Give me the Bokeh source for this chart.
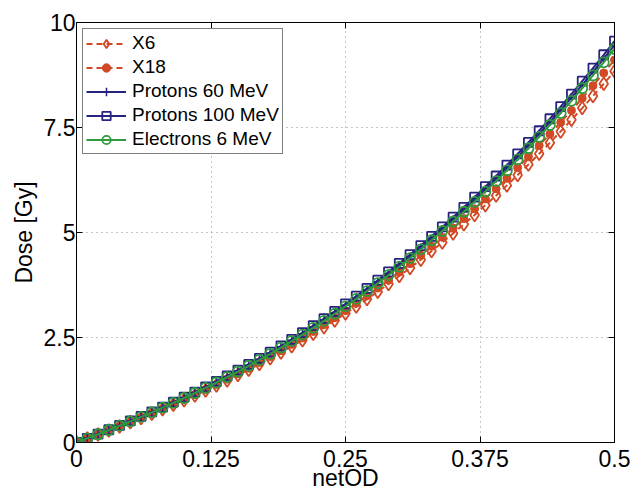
from bokeh.plotting import figure
from bokeh.models import LinearAxis, FixedTicker, Range1d
from bokeh.embed import file_html
from bokeh.resources import INLINE

# ---------------- data ----------------
net_od = [0.00, 0.01, 0.02, 0.03, 0.04, 0.05, 0.06, 0.07, 0.08, 0.09,
          0.10, 0.11, 0.12, 0.13, 0.14, 0.15, 0.16, 0.17, 0.18, 0.19,
          0.20, 0.21, 0.22, 0.23, 0.24, 0.25, 0.26, 0.27, 0.28, 0.29,
          0.30, 0.31, 0.32, 0.33, 0.34, 0.35, 0.36, 0.37, 0.38, 0.39,
          0.40, 0.41, 0.42, 0.43, 0.44, 0.45, 0.46, 0.47, 0.48, 0.49, 0.50]

dose_x6 = [0.000, 0.094, 0.188, 0.284, 0.381, 0.480, 0.581, 0.684, 0.789, 0.897,
           1.008, 1.121, 1.237, 1.357, 1.479, 1.605, 1.735, 1.868, 2.004, 2.144,
           2.289, 2.437, 2.589, 2.745, 2.906, 3.071, 3.240, 3.414, 3.592, 3.776,
           3.963, 4.156, 4.354, 4.557, 4.764, 4.977, 5.196, 5.419, 5.648, 5.882,
           6.122, 6.368, 6.619, 6.876, 7.139, 7.407, 7.682, 7.962, 8.249, 8.542, 8.841]

dose_x18 = [0.000, 0.095, 0.191, 0.288, 0.386, 0.487, 0.589, 0.694, 0.802, 0.912,
            1.024, 1.140, 1.259, 1.381, 1.506, 1.635, 1.767, 1.903, 2.043, 2.187,
            2.335, 2.487, 2.644, 2.804, 2.969, 3.139, 3.313, 3.493, 3.676, 3.865,
            4.059, 4.258, 4.462, 4.671, 4.886, 5.106, 5.332, 5.563, 5.800, 6.042,
            6.291, 6.545, 6.805, 7.071, 7.343, 7.622, 7.906, 8.197, 8.495, 8.799, 9.109]

dose_p60 = [0.000, 0.099, 0.199, 0.300, 0.403, 0.508, 0.615, 0.724, 0.836, 0.950,
            1.068, 1.188, 1.312, 1.439, 1.570, 1.704, 1.841, 1.983, 2.129, 2.278,
            2.432, 2.590, 2.753, 2.920, 3.092, 3.268, 3.449, 3.635, 3.825, 4.022,
            4.223, 4.429, 4.641, 4.859, 5.082, 5.310, 5.544, 5.784, 6.030, 6.282,
            6.539, 6.802, 7.073, 7.349, 7.631, 7.919, 8.214, 8.516, 8.825, 9.140, 9.461]

dose_p100 = [0.000, 0.100, 0.201, 0.303, 0.407, 0.513, 0.621, 0.731, 0.844, 0.960,
             1.079, 1.200, 1.325, 1.454, 1.586, 1.721, 1.860, 2.003, 2.150, 2.301,
             2.457, 2.616, 2.781, 2.949, 3.123, 3.301, 3.484, 3.672, 3.864, 4.063,
             4.266, 4.474, 4.688, 4.908, 5.133, 5.364, 5.600, 5.842, 6.091, 6.345,
             6.605, 6.871, 7.144, 7.423, 7.708, 7.999, 8.297, 8.602, 8.914, 9.232, 9.557]

dose_e6 = [0.000, 0.098, 0.197, 0.298, 0.400, 0.504, 0.610, 0.719, 0.830, 0.943,
           1.060, 1.179, 1.302, 1.428, 1.557, 1.690, 1.827, 1.967, 2.112, 2.260,
           2.412, 2.569, 2.730, 2.895, 3.065, 3.240, 3.419, 3.604, 3.793, 3.987,
           4.186, 4.391, 4.600, 4.815, 5.036, 5.262, 5.494, 5.731, 5.974, 6.223,
           6.478, 6.739, 7.006, 7.279, 7.559, 7.844, 8.136, 8.434, 8.739, 9.051, 9.369]

series_names = ["X6", "X18", "Protons 60 MeV", "Protons 100 MeV", "Electrons 6 MeV"]

x_ticks = [0, 0.125, 0.25, 0.375, 0.5]
x_tick_labels = ["0", "0.125", "0.25", "0.375", "0.5"]
y_ticks = [0, 2.5, 5, 7.5, 10]
y_tick_labels = ["0", "2.5", "5", "7.5", "10"]

# ---------------- styling ----------------
RED = "#D24A25"
BLUE = "#27237F"
GREEN = "#2E9A3E"
FONT = "Liberation Sans"

p = figure(width=632, height=495, output_backend="svg", toolbar_location=None,
           x_range=Range1d(0, 0.5), y_range=Range1d(0, 10),
           min_border_left=76, min_border_top=22, min_border_right=18,
           min_border_bottom=53, x_axis_label="netOD", y_axis_label="Dose [Gy]")
p.background_fill_color = "white"
p.border_fill_color = "white"
p.outline_line_color = "black"
p.outline_line_width = 1

xt = FixedTicker(ticks=x_ticks, minor_ticks=[])
yt = FixedTicker(ticks=y_ticks, minor_ticks=[])

for ax in p.xaxis:
    ax.ticker = xt
    ax.major_label_overrides = dict(zip(x_ticks, x_tick_labels))
for ax in p.yaxis:
    ax.ticker = yt
    ax.major_label_overrides = dict(zip(y_ticks, y_tick_labels))

for ax in list(p.xaxis) + list(p.yaxis):
    ax.major_tick_in = 6
    ax.major_tick_out = 0
    ax.minor_tick_line_color = None
    ax.axis_line_color = "black"
    ax.major_tick_line_color = "black"
    ax.major_label_text_font = FONT
    ax.major_label_text_font_size = "23px"
    ax.major_label_text_color = "black"
    ax.axis_label_text_font = FONT
    ax.axis_label_text_font_size = "23px"
    ax.axis_label_text_font_style = "normal"
    ax.axis_label_text_color = "black"

p.xaxis.major_label_standoff = 7
p.xaxis.axis_label_standoff = -5
p.yaxis.major_label_standoff = 1
p.yaxis.axis_label_standoff = 4

# mirrored ticks on top and right (no labels drawn)
top_ax = LinearAxis(ticker=FixedTicker(ticks=x_ticks, minor_ticks=[]),
                    major_label_text_font_size="1px", major_label_text_color=None,
                    major_tick_in=6, major_tick_out=0, major_label_standoff=0,
                    minor_tick_line_color=None, axis_line_color="black")
right_ax = LinearAxis(ticker=FixedTicker(ticks=y_ticks, minor_ticks=[]),
                      major_label_text_font_size="1px", major_label_text_color=None,
                      major_tick_in=6, major_tick_out=0, major_label_standoff=0,
                      minor_tick_line_color=None, axis_line_color="black")
p.add_layout(top_ax, "above")
p.add_layout(right_ax, "right")

for g in [p.xgrid[0], p.ygrid[0]]:
    g.grid_line_color = "#8c8c8c"
    g.grid_line_dash = "1 4"
    g.grid_line_width = 1
p.xgrid[0].ticker = xt
p.ygrid[0].ticker = yt

# ---------------- curves ----------------
# X6: dashed, hollow diamonds
p.line(net_od, dose_x6, color=RED, line_width=2, line_dash="6 4", legend_label=series_names[0])
p.scatter(net_od, dose_x6, marker="diamond", size=13, line_color=RED, line_width=1.8,
          fill_color=None, legend_label=series_names[0])
# X18: dashed, filled dots
p.line(net_od, dose_x18, color=RED, line_width=2, line_dash="6 4", legend_label=series_names[1])
p.scatter(net_od, dose_x18, marker="circle", size=8, line_color=RED, fill_color=RED,
          legend_label=series_names[1])
# Protons 60 MeV: solid, plus markers
p.line(net_od, dose_p60, color=BLUE, line_width=2, legend_label=series_names[2])
p.scatter(net_od, dose_p60, marker="cross", size=8, line_color=BLUE, line_width=1.5,
          legend_label=series_names[2])
# Protons 100 MeV: solid, hollow squares
p.line(net_od, dose_p100, color=BLUE, line_width=2, legend_label=series_names[3])
p.scatter(net_od, dose_p100, marker="square", size=9, line_color=BLUE, line_width=1.8,
          fill_color=None, legend_label=series_names[3])
# Electrons 6 MeV: solid, hollow circles
p.line(net_od, dose_e6, color=GREEN, line_width=2, legend_label=series_names[4])
p.scatter(net_od, dose_e6, marker="circle", size=10, line_color=GREEN, line_width=1.8,
          fill_color=None, legend_label=series_names[4])

# ---------------- legend ----------------
lg = p.legend[0]
lg.location = "top_left"
lg.margin = 6
lg.padding = 3
lg.spacing = 2
lg.border_line_color = "black"
lg.border_line_width = 1
lg.background_fill_color = "white"
lg.background_fill_alpha = 1
lg.label_text_font = FONT
lg.label_text_font_size = "19px"
lg.label_text_color = "black"
lg.glyph_width = 40
lg.glyph_height = 21
lg.label_height = 21
lg.label_standoff = 6

open("out.html", "w").write(file_html(p, INLINE))
